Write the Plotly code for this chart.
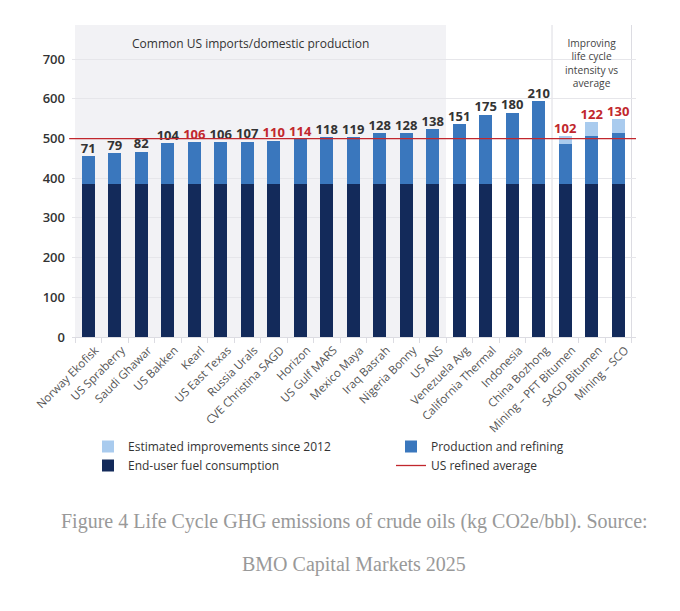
import plotly.graph_objects as go

# crude names, left to right
crudes = [
    "Norway Ekofisk", "US Spraberry", "Saudi Ghawar", "US Bakken", "Kearl",
    "US East Texas", "Russia Urals", "CVE Christina SAGD", "Horizon",
    "US Gulf MARS", "Mexico Maya", "Iraq Basrah", "Nigeria Bonny", "US ANS",
    "Venezuela Avg", "California Thermal", "Indonesia", "China Bozhong",
    "Mining – PFT Bitumen", "SAGD Bitumen", "Mining – SCO",
]
# kg CO2e/bbl
end_user = [385] * len(crudes)
production = [71, 79, 82, 104, 106, 106, 107, 110, 114, 118, 119, 128, 128,
              138, 151, 175, 180, 210, 102, 122, 130]
improvements = [0] * 18 + [20, 35, 34]
# labels in red = Canadian oil sands
highlight = [False, False, False, False, True, False, False, True, True,
             False, False, False, False, False, False, False, False, False,
             True, True, True]
us_refined_avg = 500

NAVY = "#132a5a"
MID = "#3a77bd"
LIGHT = "#a9cbee"
RED = "#c1272d"
FONT = "Open Sans"

fig = go.Figure()

# legend 1 (left column): improvements, end-user; legend 2 (right): production, avg line
fig.add_trace(go.Bar(
    x=crudes, y=end_user, name="End-user fuel consumption",
    marker=dict(color=NAVY, line=dict(width=0)), legend="legend", legendrank=2,
))
fig.add_trace(go.Bar(
    x=crudes, y=production, name="Production and refining",
    marker=dict(color=MID, line=dict(width=0)), legend="legend2", legendrank=1,
))
fig.add_trace(go.Bar(
    x=crudes, y=improvements, name="Estimated improvements since 2012",
    marker=dict(color=LIGHT, line=dict(width=0)), legend="legend", legendrank=1,
))

# value labels above each stack
totals = [a + b + c for a, b, c in zip(end_user, production, improvements)]
fig.add_trace(go.Scatter(
    x=crudes, y=totals, mode="text",
    text=[str(v) for v in production],
    textposition="top center",
    textfont=dict(family=FONT, size=13, weight=700,
                  color=[RED if h else "#333333" for h in highlight]),
    showlegend=False, cliponaxis=False, hoverinfo="skip",
))

# background panel for the common imports group
fig.add_shape(type="rect", xref="x", yref="y domain",
              x0=-0.5, x1=13.5, y0=0, y1=1,
              fillcolor="#f2f2f5", line=dict(width=0), layer="below")
# box around the "improving" group
for xv in (17.5, 20.5):
    fig.add_shape(type="line", xref="x", yref="y domain",
                  x0=xv, x1=xv, y0=0, y1=1,
                  line=dict(color="#dcdce2", width=1), layer="below")

# US refined average line
fig.add_shape(type="line", xref="paper", yref="y",
              x0=-0.005, x1=1.0, y0=us_refined_avg, y1=us_refined_avg,
              line=dict(color=RED, width=1.3), layer="above",
              showlegend=True, name="US refined average",
              legend="legend2", legendrank=2)

fig.add_annotation(x=6.12, y=0.942, xref="x", yref="y domain", yanchor="middle",
                   text="Common US imports/domestic production",
                   showarrow=False,
                   font=dict(family=FONT, size=12, color="#333333"))
fig.add_annotation(x=19, y=0.972, xref="x", yref="y domain", yanchor="top",
                   text="Improving<br>life cycle<br>intensity vs<br>average",
                   showarrow=False,
                   font=dict(family=FONT, size=10.2, color="#444444"))

# caption (page body adds an 8px offset, so positions are shifted by 8)
fig.add_annotation(x=0.5, y=-0.59, xref="paper", yref="paper",
                   xanchor="center", yanchor="middle", showarrow=False,
                   text="Figure 4 Life Cycle GHG emissions of crude oils (kg CO2e/bbl). Source:",
                   font=dict(family="Liberation Serif", size=20, color="#999999"))
fig.add_annotation(x=0.5, y=-0.728, xref="paper", yref="paper",
                   xanchor="center", yanchor="middle", showarrow=False,
                   text="BMO Capital Markets 2025",
                   font=dict(family="Liberation Serif", size=20, color="#999999"))

legend_common = dict(
    orientation="v", xanchor="left", yanchor="top",
    xref="container", yref="container",
    font=dict(family=FONT, size=12, color="#333333"),
    traceorder="normal", tracegroupgap=0, itemwidth=30,
    bgcolor="rgba(0,0,0,0)",
)

fig.update_layout(
    width=680, height=611,
    margin=dict(l=64, r=52, t=17, b=282, autoexpand=False),
    barmode="stack", bargap=0.5,
    paper_bgcolor="white", plot_bgcolor="white",
    font=dict(family=FONT, color="#333333"),
    legend=dict(legend_common, x=80 / 680, y=1 - 424 / 611),
    legend2=dict(legend_common, x=383 / 680, y=1 - 424 / 611),
    showlegend=True,
)
fig.update_xaxes(
    range=[-0.615, 20.67], automargin=False,
    tickangle=-45, tickfont=dict(family=FONT, size=11.5, color="#555555"),
    ticklabelshift=7, ticklabelstandoff=1,
    showline=True, linecolor="#dcdce2", linewidth=1,
    ticks="outside", tickson="boundaries", ticklen=5, tickcolor="#dcdce2",
    showgrid=False,
)
fig.update_yaxes(
    range=[0, 786], tickvals=[0, 100, 200, 300, 400, 500, 600, 700],
    automargin=False,
    tickfont=dict(family=FONT, size=13, color="#333333", weight=600),
    gridcolor="#e6e6ea", gridwidth=1, zeroline=False, showline=False,
    ticks="", ticklabelstandoff=6,
)

fig.write_html("out.html")
